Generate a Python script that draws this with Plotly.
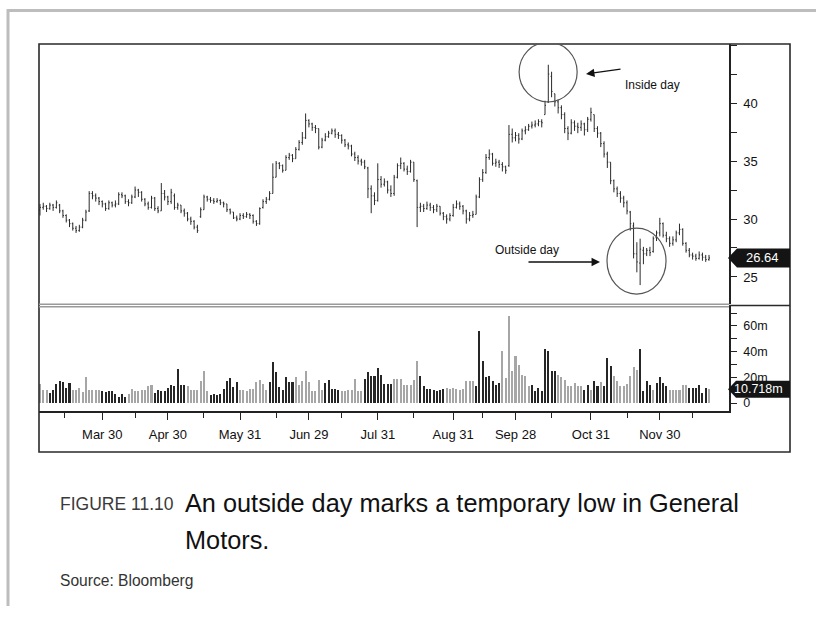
import plotly.graph_objects as go

FONT = "Liberation Sans, Arial, Helvetica, sans-serif"

# ---- daily General Motors prices (trading-day index 0..204) ----
day = list(range(205))

open_ = [
    30.8, 31.0, 31.1, 30.9, 31.2, 31.0, 31.2, 30.7, 30.3, 29.9,
    29.6, 29.2, 29.0, 29.3, 29.9, 30.7, 32.2, 32.0, 31.8, 31.5,
    31.3, 30.9, 31.4, 31.2, 31.3, 32.1, 32.0, 31.5, 31.4, 31.9,
    32.5, 32.3, 31.7, 31.3, 31.0, 31.8, 30.9, 30.7, 32.2, 31.9,
    31.5, 32.0, 31.0, 31.2, 30.7, 30.5, 30.0, 29.8, 29.3, 30.2,
    30.8, 31.9, 31.7, 31.6, 31.5, 31.6, 31.4, 31.3, 30.8, 30.6,
    30.1, 30.0, 30.3, 30.2, 30.4, 30.3, 29.8, 29.6, 31.0, 31.5,
    31.7, 32.2, 33.6, 34.8, 34.6, 34.2, 35.3, 35.5, 35.2, 36.0,
    36.6, 37.0, 38.5, 38.2, 37.9, 37.8, 36.2, 36.8, 37.1, 37.4,
    37.6, 37.3, 37.2, 36.8, 36.4, 36.3, 35.6, 35.3, 35.0, 34.9,
    34.4, 32.6, 32.0, 31.6, 33.4, 33.0, 33.2, 32.5, 32.2, 33.6,
    34.6, 34.8, 34.3, 34.1, 34.9, 33.3, 31.0, 31.1, 30.9, 31.2,
    31.0, 30.8, 31.1, 30.5, 30.2, 30.0, 30.3, 31.0, 31.3, 31.1,
    30.7, 30.0, 30.3, 30.4, 31.9, 33.4, 34.0, 35.3, 35.6, 34.8,
    34.9, 34.7, 34.5, 34.6, 37.3, 37.0, 37.2, 36.9, 37.6, 37.7,
    38.0, 38.1, 38.2, 38.4, 39.0, 40.1, 42.3, 40.8, 40.1, 39.6,
    39.0, 37.8, 37.4, 38.3, 38.0, 37.9, 38.2, 37.7, 38.6, 39.0,
    37.8, 37.4, 36.5, 35.6, 34.9, 33.3, 32.6, 32.2, 31.8, 31.4,
    30.6, 29.4, 27.0, 26.2, 27.3, 27.0, 27.3, 27.2, 28.4, 28.8,
    29.6, 28.6, 28.3, 27.9, 28.2, 28.8, 29.1, 27.9, 27.3, 26.9,
    26.8, 26.6, 26.9, 26.7, 26.5,
]

high = [
    31.3, 31.4, 31.2, 31.4, 31.3, 31.6, 31.3, 30.8, 30.4, 30.0,
    29.7, 29.4, 29.5, 30.1, 30.8, 32.4, 32.4, 32.2, 31.9, 31.6,
    31.4, 31.6, 31.5, 31.6, 32.3, 32.3, 32.1, 31.7, 32.1, 32.8,
    32.6, 32.4, 31.8, 31.5, 32.0, 31.9, 31.1, 33.1, 32.5, 32.0,
    32.6, 32.2, 31.4, 31.2, 30.9, 30.6, 30.2, 29.9, 29.5, 31.0,
    32.1, 32.0, 31.9, 31.8, 31.8, 31.7, 31.5, 31.3, 30.9, 30.6,
    30.3, 30.5, 30.5, 30.6, 30.5, 30.4, 29.9, 31.0, 31.7, 31.9,
    32.4, 34.8, 35.0, 34.9, 34.7, 35.5, 35.7, 35.6, 36.2, 36.8,
    37.5, 39.1, 38.6, 38.3, 38.1, 37.8, 37.0, 37.4, 37.6, 37.8,
    37.8, 37.5, 37.3, 36.9, 36.6, 36.4, 35.8, 35.5, 35.2, 35.1,
    34.5, 32.9, 32.3, 34.8, 33.7, 33.5, 33.3, 32.9, 33.8, 34.8,
    35.3, 34.9, 34.6, 35.1, 34.9, 33.4, 31.4, 31.3, 31.5, 31.4,
    31.2, 31.3, 31.1, 30.6, 30.4, 30.5, 31.3, 31.6, 31.5, 31.2,
    30.8, 30.6, 30.7, 32.1, 33.6, 34.3, 35.6, 36.0, 35.7, 35.2,
    35.1, 34.9, 34.6, 38.1, 37.8, 37.5, 37.4, 37.8, 38.0, 38.2,
    38.4, 38.5, 38.6, 38.6, 40.2, 43.3, 42.7, 40.8, 40.3, 39.8,
    39.2, 38.0, 38.6, 38.5, 38.3, 38.5, 38.3, 38.8, 39.6, 39.0,
    38.0, 37.5, 36.7, 35.8, 34.9, 33.4, 32.8, 32.4, 32.0, 31.6,
    30.7, 29.7, 28.0, 28.3, 27.6, 27.5, 27.6, 28.5, 29.0, 30.1,
    29.7, 28.9, 28.5, 28.5, 29.0, 29.6, 29.2, 28.0, 27.5, 27.1,
    27.0, 27.2, 27.1, 26.9, 26.9,
]

low = [
    30.3, 30.8, 30.6, 30.8, 30.7, 30.9, 30.5, 30.1, 29.7, 29.3,
    29.0, 28.8, 28.9, 29.2, 29.8, 30.6, 31.7, 31.5, 31.2, 31.0,
    30.7, 30.8, 31.0, 31.0, 31.2, 31.8, 31.3, 31.1, 31.3, 31.8,
    31.9, 31.5, 31.1, 30.8, 30.9, 30.7, 30.5, 30.7, 31.6, 31.2,
    31.3, 30.8, 30.8, 30.5, 30.2, 29.8, 29.5, 29.1, 28.8, 30.1,
    30.8, 31.5, 31.4, 31.3, 31.4, 31.2, 31.0, 30.6, 30.4, 30.0,
    29.8, 29.9, 30.0, 30.1, 30.0, 29.6, 29.4, 29.5, 30.9, 31.3,
    31.6, 32.2, 33.6, 34.3, 34.0, 34.2, 35.1, 34.9, 35.2, 35.9,
    36.4, 36.9, 37.9, 37.6, 37.4, 36.0, 36.1, 36.7, 37.0, 37.3,
    37.0, 36.9, 36.5, 36.2, 36.0, 35.4, 35.0, 34.7, 34.6, 34.3,
    31.8, 30.5, 31.2, 31.5, 32.7, 32.8, 32.2, 31.9, 32.0, 33.5,
    34.3, 34.1, 33.8, 34.0, 33.2, 29.3, 30.6, 30.6, 30.8, 30.7,
    30.5, 30.6, 30.3, 29.9, 29.6, 29.8, 30.2, 30.9, 30.8, 30.4,
    29.6, 29.8, 30.1, 30.4, 31.8, 33.2, 33.9, 35.1, 34.6, 34.5,
    34.4, 34.1, 33.9, 34.5, 36.6, 36.7, 36.5, 36.8, 37.3, 37.6,
    37.8, 37.9, 38.0, 37.9, 39.0, 40.0, 40.5, 39.7, 39.1, 38.6,
    37.4, 36.8, 37.3, 37.6, 37.4, 37.6, 37.2, 37.5, 38.4, 37.5,
    37.0, 36.2, 35.3, 34.4, 33.0, 32.3, 31.9, 31.4, 31.0, 30.4,
    29.0, 26.6, 25.4, 24.3, 26.1, 26.8, 26.8, 27.1, 28.1, 28.5,
    28.4, 28.0, 27.6, 27.7, 28.0, 28.6, 27.7, 27.1, 26.7, 26.5,
    26.4, 26.5, 26.4, 26.3, 26.4,
]

close = [
    31.0, 31.1, 30.9, 31.2, 31.0, 31.4, 30.7, 30.3, 29.9, 29.6,
    29.2, 29.0, 29.3, 29.9, 30.6, 32.2, 32.0, 31.8, 31.5, 31.3,
    30.9, 31.4, 31.2, 31.3, 32.1, 32.0, 31.5, 31.4, 31.9, 32.5,
    32.3, 31.7, 31.3, 31.0, 31.8, 30.9, 30.7, 32.2, 31.9, 31.5,
    32.3, 31.0, 31.2, 30.7, 30.5, 30.0, 29.8, 29.3, 29.0, 30.8,
    31.9, 31.7, 31.6, 31.5, 31.6, 31.4, 31.3, 30.8, 30.6, 30.1,
    30.0, 30.3, 30.2, 30.4, 30.3, 29.8, 29.6, 30.9, 31.5, 31.7,
    32.2, 33.6, 34.8, 34.6, 34.2, 35.3, 35.5, 35.2, 36.0, 36.6,
    37.0, 38.5, 38.2, 37.9, 37.8, 36.2, 36.8, 37.1, 37.4, 37.6,
    37.3, 37.2, 36.8, 36.4, 36.3, 35.6, 35.3, 35.0, 34.9, 34.5,
    32.6, 32.0, 31.6, 33.4, 33.0, 33.2, 32.5, 32.2, 33.6, 34.6,
    34.8, 34.3, 34.1, 34.9, 33.4, 31.0, 31.1, 30.9, 31.2, 31.0,
    30.8, 31.1, 30.5, 30.2, 30.0, 30.3, 31.0, 31.3, 31.1, 30.7,
    30.0, 30.3, 30.4, 31.9, 33.4, 34.0, 35.3, 35.6, 34.8, 34.9,
    34.7, 34.5, 34.2, 37.3, 37.0, 37.2, 36.9, 37.6, 37.7, 38.0,
    38.1, 38.2, 38.4, 38.3, 39.8, 42.5, 41.0, 40.1, 39.6, 39.0,
    37.8, 37.4, 38.3, 38.0, 37.9, 38.2, 37.7, 38.6, 39.2, 37.8,
    37.4, 36.5, 35.6, 34.9, 33.3, 32.6, 32.2, 31.8, 31.4, 30.7,
    29.6, 27.0, 26.3, 27.4, 27.0, 27.3, 27.1, 28.3, 28.8, 29.6,
    28.6, 28.3, 27.9, 28.2, 28.8, 29.1, 27.9, 27.3, 26.9, 26.8,
    26.6, 26.9, 26.7, 26.5, 26.64,
]

# daily volume, millions of shares
volume = [
    15.0, 10.0, 10.0, 7.5, 10.0, 14.8, 17.0, 16.5, 12.0, 15.8,
    10.0, 10.0, 12.0, 8.8, 20.0, 10.5, 10.5, 10.5, 10.0, 9.0,
    8.5, 9.0, 9.5, 7.0, 5.0, 7.0, 5.0, 7.0, 11.0, 9.0,
    9.0, 10.0, 10.0, 13.0, 14.0, 8.0, 10.0, 9.0, 9.0, 12.0,
    14.0, 13.5, 26.5, 14.0, 14.0, 13.0, 10.0, 10.0, 10.0, 17.0,
    25.0, 9.0, 6.0, 7.0, 6.0, 7.0, 10.6, 17.0, 19.5, 12.7,
    16.6, 10.0, 10.0, 9.0, 11.0, 11.0, 16.0, 18.0, 15.0, 10.0,
    16.6, 31.6, 24.4, 12.7, 10.0, 20.0, 16.0, 16.0, 20.5, 14.0,
    17.4, 25.0, 16.6, 9.0, 9.0, 18.0, 10.0, 15.3, 18.0, 11.0,
    11.0, 10.0, 9.0, 9.0, 10.0, 10.0, 19.0, 9.0, 9.0, 19.0,
    24.4, 21.0, 21.0, 27.0, 21.8, 14.5, 14.5, 14.5, 18.5, 18.5,
    19.0, 14.0, 14.0, 14.0, 18.0, 32.4, 21.0, 13.0, 11.0, 11.0,
    10.0, 9.0, 10.0, 11.0, 12.0, 11.0, 12.0, 11.0, 10.0, 11.0,
    17.0, 17.0, 17.0, 13.0, 55.8, 32.4, 20.0, 21.0, 17.0, 14.0,
    15.6, 40.7, 19.5, 67.4, 24.6, 36.8, 29.8, 22.0, 20.8, 13.0,
    14.3, 9.0, 11.7, 9.0, 42.0, 40.7, 24.6, 24.6, 22.0, 20.0,
    18.0, 13.0, 13.0, 15.6, 13.0, 13.0, 10.4, 14.3, 10.0, 17.0,
    13.0, 16.0, 13.0, 35.0, 29.0, 20.8, 17.0, 13.0, 13.0, 15.0,
    21.3, 28.0, 25.4, 42.0, 9.0, 17.0, 14.3, 10.4, 15.6, 20.0,
    15.6, 13.0, 10.4, 10.4, 10.4, 10.4, 14.3, 14.3, 11.7, 11.7,
    11.7, 14.3, 7.8, 11.7, 10.718,
]

# 1 = dark volume bar, 0 = light volume bar
vol_dark = [
    0, 0, 0, 1, 1, 1, 1, 1, 1, 1,
    0, 0, 0, 0, 0, 0, 0, 0, 0, 1,
    1, 1, 1, 1, 1, 1, 1, 0, 0, 0,
    0, 0, 0, 0, 0, 1, 1, 1, 1, 1,
    1, 1, 1, 1, 1, 0, 0, 0, 0, 0,
    0, 0, 1, 1, 1, 1, 1, 1, 1, 1,
    1, 0, 0, 0, 0, 0, 0, 0, 0, 0,
    1, 1, 1, 1, 1, 1, 1, 1, 0, 0,
    0, 0, 0, 0, 0, 0, 0, 1, 1, 1,
    1, 1, 0, 0, 0, 0, 0, 0, 0, 1,
    1, 1, 1, 1, 1, 1, 1, 1, 0, 0,
    0, 0, 0, 0, 0, 0, 1, 1, 1, 1,
    1, 1, 1, 1, 0, 0, 0, 0, 0, 0,
    0, 0, 0, 1, 1, 1, 1, 1, 1, 1,
    1, 0, 0, 0, 0, 0, 0, 0, 0, 0,
    1, 1, 1, 1, 1, 1, 1, 1, 0, 0,
    0, 0, 0, 0, 0, 0, 1, 1, 0, 1,
    1, 0, 1, 1, 1, 0, 0, 0, 0, 0,
    0, 0, 0, 1, 1, 1, 1, 0, 1, 1,
    1, 1, 0, 0, 0, 0, 0, 0, 1, 1,
    1, 1, 1, 1, 0,
]

month_ticks = [19, 39, 61, 82, 103, 126, 145, 168, 189]
month_labels = ["Mar 30", "Apr 30", "May 31", "Jun 29", "Jul 31",
                "Aug 31", "Sep 28", "Oct 31", "Nov 30"]
mid_month_ticks = [7.5, 29, 50, 72, 92, 114, 135, 156, 179, 199]
price_ticks = [25, 30, 35, 40]
price_minor = [27.5, 32.5, 37.5, 42.5, 45]
vol_ticks = [0, 20, 40, 60]
vol_labels = ["0", "20m", "40m", "60m"]
vol_minor = [10, 30, 50, 70]

last_price = close[-1]
last_volume = volume[-1]

# ---- page geometry (pixels) ----
W, H = 816, 617
L, R, T, B = 39, 729, 44, 411      # plotting rectangle
SEP_PRICE, SEP_VOL = 304, 306      # bottom of price pane / top of volume pane
X_RANGE = [-0.3, 210.1]
P_RANGE = [22.67, 45.09]
V_RANGE = [-6.2, 75.5]


def fx(p):
    return (p - L) / (R - L)


def fy(p):
    return (B - p) / (B - T)


INK = "#222222"
bar_colors = ["#262626" if d else "#a6a6a6" for d in vol_dark]

fig = go.Figure()
fig.add_trace(go.Ohlc(
    x=day, open=open_, high=high, low=low, close=close,
    xaxis="x", yaxis="y",
    increasing=dict(line=dict(color="#2b2b2b", width=1)),
    decreasing=dict(line=dict(color="#2b2b2b", width=1)),
    tickwidth=0.3, showlegend=False, hoverinfo="skip",
))
fig.add_trace(go.Bar(
    x=day, y=volume, xaxis="x2", yaxis="y2",
    marker=dict(color=bar_colors, line=dict(width=0)),
    width=0.62, showlegend=False, hoverinfo="skip",
))

tickfont = dict(family=FONT, size=13, color="#111111")

fig.update_layout(
    width=W, height=H, autosize=False,
    margin=dict(l=L, r=W - R, t=T, b=H - B, pad=0),
    paper_bgcolor="white", plot_bgcolor="white",
    showlegend=False, bargap=0,
    xaxis=dict(
        domain=[0, 1], anchor="y", range=X_RANGE,
        showticklabels=False, ticks="", showline=False,
        showgrid=False, zeroline=False, rangeslider=dict(visible=False),
    ),
    xaxis2=dict(
        domain=[0, 1], anchor="y2", range=X_RANGE,
        tickmode="array", tickvals=month_ticks, ticktext=month_labels,
        ticks="outside", ticklen=7, tickwidth=1.2, tickcolor=INK,
        minor=dict(tickvals=mid_month_ticks, ticks="outside", ticklen=5,
                   tickwidth=1.2, tickcolor=INK, showgrid=False),
        showline=True, linecolor=INK, linewidth=1.5,
        showgrid=False, zeroline=False, tickfont=tickfont,
        ticklabelstandoff=4, rangeslider=dict(visible=False),
    ),
    yaxis=dict(
        domain=[fy(SEP_PRICE), 1], anchor="x", side="right", range=P_RANGE,
        tickmode="array", tickvals=price_ticks,
        ticks="outside", ticklen=6, tickwidth=1.2, tickcolor=INK,
        minor=dict(tickvals=price_minor, ticks="outside", ticklen=6,
                   tickwidth=1.2, tickcolor=INK, showgrid=False),
        showline=True, linecolor=INK, linewidth=1.5,
        showgrid=False, zeroline=False, tickfont=tickfont,
        ticklabelstandoff=4,
    ),
    yaxis2=dict(
        domain=[0, fy(SEP_VOL)], anchor="x2", side="right", range=V_RANGE,
        tickmode="array", tickvals=vol_ticks, ticktext=vol_labels,
        ticks="outside", ticklen=6, tickwidth=1.2, tickcolor=INK,
        minor=dict(tickvals=vol_minor, ticks="outside", ticklen=6,
                   tickwidth=1.2, tickcolor=INK, showgrid=False),
        showline=True, linecolor=INK, linewidth=1.5,
        showgrid=False, zeroline=False,
        tickfont=dict(family=FONT, size=12.5, color="#111111"),
        ticklabelstandoff=4,
    ),
)

shapes = []
# light page frame (top and left rules)
shapes.append(dict(type="line", xref="paper", yref="paper",
                   x0=fx(7), x1=fx(W), y0=fy(10.5), y1=fy(10.5),
                   line=dict(color="#bdbdbd", width=3)))
shapes.append(dict(type="line", xref="paper", yref="paper",
                   x0=fx(8), x1=fx(8), y0=fy(9), y1=fy(606),
                   line=dict(color="#bdbdbd", width=3)))
# chart border
shapes.append(dict(type="rect", xref="paper", yref="paper",
                   x0=fx(L), x1=fx(790), y0=fy(452), y1=fy(T),
                   line=dict(color="#2a2a2a", width=1.6)))
# pane separator: grey double rule in the plot, black rule across the scale
for yy in (304.3, 306.7):
    shapes.append(dict(type="line", xref="paper", yref="paper",
                       x0=fx(L), x1=fx(R), y0=fy(yy), y1=fy(yy),
                       line=dict(color="#9a9a9a", width=1.4)))
shapes.append(dict(type="line", xref="paper", yref="paper",
                   x0=fx(R), x1=fx(790), y0=fy(305.5), y1=fy(305.5),
                   line=dict(color="#2a2a2a", width=1.6)))
# rings around the inside day and the outside day
shapes.append(dict(type="circle", xref="x", yref="y",
                   x0=146.1, x1=163.8, y0=40.09, y1=45.26,
                   line=dict(color="#555555", width=1.2)))
shapes.append(dict(type="circle", xref="x", yref="y",
                   x0=172.9, x1=190.9, y0=23.53, y1=29.22,
                   line=dict(color="#555555", width=1.2)))

# last-value flags on the right scale
p_half = 9.5 * (P_RANGE[1] - P_RANGE[0]) / (SEP_PRICE - T)
v_half = 8.5 * (V_RANGE[1] - V_RANGE[0]) / (B - SEP_VOL)


def flag_path(v, half, left_px):
    xt, xl, xr = fx(R - 1), fx(left_px), fx(790)
    return (f"M {xt},{v} L {xl},{v + half} L {xr},{v + half} "
            f"L {xr},{v - half} L {xl},{v - half} Z")


shapes.append(dict(type="path", xref="paper", yref="y",
                   path=flag_path(last_price, p_half, 737),
                   fillcolor="#141414", line=dict(width=0)))
shapes.append(dict(type="path", xref="paper", yref="y2",
                   path=flag_path(last_volume, v_half, 736),
                   fillcolor="#141414", line=dict(width=0)))

ann = []
label_font = dict(family=FONT, size=12, color="#111111")


def text_at(text, x_px, y_px, font, xanchor="center"):
    return dict(text=text, xref="paper", yref="paper",
                x=fx(x_px), y=fy(y_px), xanchor=xanchor, yanchor="middle",
                showarrow=False, font=font)


ann.append(text_at("Inside day", 652, 85, label_font))
ann.append(dict(text="", xref="paper", yref="paper",
                x=fx(586), y=fy(74), ax=36, ay=-5,
                showarrow=True, arrowhead=2, arrowsize=1.3,
                arrowwidth=1.3, arrowcolor="#111111"))
ann.append(text_at("Outside day", 527, 250, label_font))
ann.append(dict(text="", xref="paper", yref="paper",
                x=fx(600), y=fy(262), ax=-73, ay=0,
                showarrow=True, arrowhead=2, arrowsize=1.3,
                arrowwidth=1.3, arrowcolor="#111111"))
flag_font = dict(family=FONT, size=13, color="white")
ann.append(dict(text=f"{last_price:.2f}", xref="paper", yref="y",
                x=fx(762), y=last_price, xanchor="center", yanchor="middle",
                showarrow=False, font=flag_font))
ann.append(dict(text=f"{last_volume:.3f}m", xref="paper", yref="y2",
                x=fx(758), y=last_volume, xanchor="center", yanchor="middle",
                showarrow=False, font=dict(family=FONT, size=12.5,
                                           color="white")))

# figure caption
ann.append(text_at("FIGURE 11.10", 58, 504,
                   dict(family=FONT, size=17.5, color="#3a3a3a"), "left"))
ann.append(text_at("An outside day marks a temporary low in General",
                   183, 503, dict(family=FONT, size=25.3, color="#111111"),
                   "left"))
ann.append(text_at("Motors.", 183, 540,
                   dict(family=FONT, size=25.3, color="#111111"), "left"))
ann.append(text_at("Source: Bloomberg", 58, 580,
                   dict(family=FONT, size=15.6, color="#333333"), "left"))

fig.update_layout(shapes=shapes, annotations=ann)
fig.write_html("out.html")
